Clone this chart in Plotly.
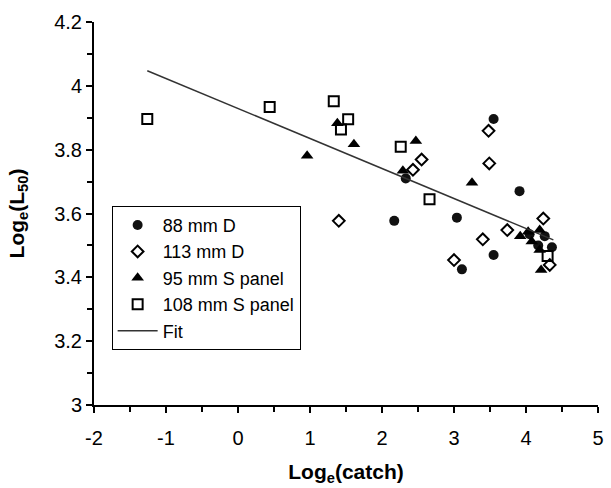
import plotly.graph_objects as go

# Log_e(catch) vs Log_e(L50) by gear type
d88_x = [3.55, 3.91, 2.33, 2.17, 3.04, 3.11, 3.55, 4.26, 4.36, 4.17, 4.05]
d88_y = [3.896, 3.670, 3.710, 3.577, 3.587, 3.425, 3.470, 3.529, 3.494, 3.500, 3.535]

d113_x = [1.40, 2.43, 2.55, 3.48, 3.49, 3.00, 3.40, 3.74, 4.24, 4.33]
d113_y = [3.577, 3.737, 3.769, 3.859, 3.757, 3.454, 3.519, 3.548, 3.584, 3.439]

s95_x = [0.96, 1.38, 1.61, 2.47, 2.29, 3.25, 3.92, 4.03, 4.08, 4.19, 4.19, 4.21]
s95_y = [3.781, 3.883, 3.817, 3.827, 3.734, 3.696, 3.529, 3.543, 3.512, 3.548, 3.486, 3.423]

s108_x = [-1.26, 0.44, 1.33, 1.53, 1.43, 2.26, 2.66, 4.30]
s108_y = [3.896, 3.934, 3.952, 3.895, 3.863, 3.809, 3.645, 3.467]

# Regression line: intercept and slope, drawn over the catch range
fit_intercept = 3.929
fit_slope = -0.094
fit_x = [-1.26, 4.38]
fit_y = [fit_intercept + fit_slope * v for v in fit_x]

# Axis ticks (plain hyphen for negatives)
x_ticks = [-2, -1, 0, 1, 2, 3, 4, 5]
x_tick_text = ["-2", "-1", "0", "1", "2", "3", "4", "5"]
y_ticks = [3, 3.2, 3.4, 3.6, 3.8, 4, 4.2]
y_tick_text = ["3", "3.2", "3.4", "3.6", "3.8", "4", "4.2"]

font_family = "Liberation Sans, Arial, sans-serif"

fig = go.Figure()
fig.add_trace(go.Scatter(
    x=d88_x, y=d88_y, mode="markers", name="88 mm D", legendgroup="a",
    marker=dict(symbol="circle", size=10, color="#111111", line=dict(width=0))))
fig.add_trace(go.Scatter(
    x=d113_x, y=d113_y, mode="markers", name="113 mm D", legendgroup="b",
    marker=dict(symbol="diamond-open", size=9, color="black", line=dict(width=2, color="black"))))
fig.add_trace(go.Scatter(
    x=s95_x, y=s95_y, mode="markers", name="95 mm S panel", legendgroup="c",
    marker=dict(symbol="triangle-up", size=11, color="black", line=dict(width=0))))
fig.add_trace(go.Scatter(
    x=s108_x, y=s108_y, mode="markers", name="108 mm S panel", legendgroup="d",
    marker=dict(symbol="square-open", size=10, color="black", line=dict(width=2, color="black"))))
fig.add_trace(go.Scatter(
    x=fit_x, y=fit_y, mode="lines", name="Fit", legendgroup="e",
    line=dict(color="#333333", width=1.5)))

axis_common = dict(
    showgrid=False, zeroline=False, showline=True, linecolor="black", linewidth=2,
    ticks="outside", ticklen=6, tickwidth=2, tickcolor="black",
    tickfont=dict(family=font_family, size=20, color="black"),
)

fig.update_xaxes(
    range=[-2, 5], tickmode="array", tickvals=x_ticks, ticktext=x_tick_text,
    ticklabelstandoff=8,
    minor=dict(dtick=0.5, tick0=-2, ticks="outside", ticklen=5, tickwidth=2, tickcolor="black"),
    title=dict(text="<b>Log<sub>e</sub>(catch)</b>", font=dict(family=font_family, size=21, color="black"), standoff=16),
    **axis_common,
)
fig.update_yaxes(
    range=[3, 4.2], tickmode="array", tickvals=y_ticks, ticktext=y_tick_text,
    minor=dict(dtick=0.1, tick0=3, ticks="outside", ticklen=5, tickwidth=2, tickcolor="black"),
    title=dict(text="<b>Log<sub>e</sub>(L<sub>50</sub>)</b>", font=dict(family=font_family, size=21, color="black"), standoff=24),
    **axis_common,
)

fig.update_layout(
    width=611, height=488,
    margin=dict(l=94, r=7, t=22, b=83),
    paper_bgcolor="white", plot_bgcolor="white",
    showlegend=True,
    legend=dict(
        x=0.035, y=0.52, xanchor="left", yanchor="top",
        bgcolor="white", bordercolor="black", borderwidth=1,
        font=dict(family=font_family, size=18, color="black"),
        tracegroupgap=0, traceorder="grouped", itemwidth=40,
    ),
)

fig.write_html("out.html")
